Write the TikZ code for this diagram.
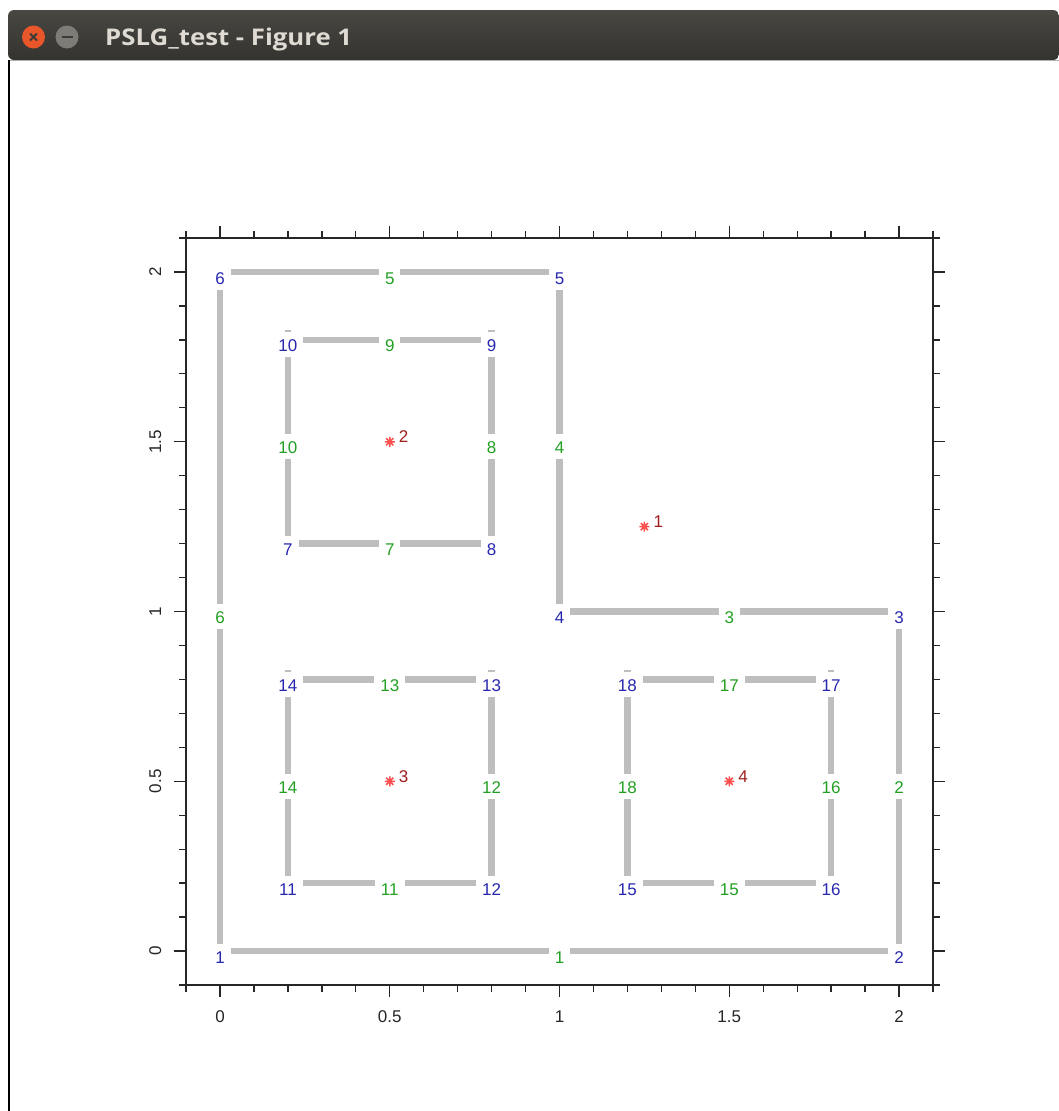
\documentclass[tikz,border=0pt]{standalone}
\usepackage{fontspec}
\setmainfont{Liberation Sans}
\newfontfamily\titlefont{Open Sans}
\usetikzlibrary{calc}
\definecolor{edgegray}{RGB}{190,190,190}
\definecolor{vblue}{RGB}{40,40,175}
\definecolor{egreen}{RGB}{35,160,35}
\definecolor{rdark}{RGB}{160,30,30}
\definecolor{rstar}{RGB}{255,80,80}
\definecolor{axcol}{RGB}{38,38,38}
\definecolor{bartop}{RGB}{72,71,66}
\definecolor{barbot}{RGB}{52,51,47}
\definecolor{titletext}{RGB}{223,219,210}
\definecolor{closeorange}{RGB}{233,86,42}
\definecolor{mingray}{RGB}{125,124,119}
\definecolor{btnmark}{RGB}{60,59,55}
\tikzset{
  pedge/.style={draw=edgegray, line width=6.5pt},
  plab/.style={fill=white, inner xsep=6pt, inner ysep=0pt, text height=19.5pt, text depth=5.5pt,
               anchor=base, yshift=-12pt, font=\fontsize{17}{17}\selectfont},
  vlab/.style={plab, text=vblue},
  elab/.style={plab, text=egreen},
  rlab/.style={anchor=base west, inner sep=0pt, text=rdark, font=\fontsize{17}{17}\selectfont},
  ticklab/.style={inner sep=0pt, text=axcol, font=\fontsize{17}{17}\selectfont},
  starmark/.style={draw=rstar, line width=1.5pt},
  axisline/.style={draw=axcol, line width=1.3pt},
}
\begin{document}
\begin{tikzpicture}[x=1pt,y=-1pt]
\useasboundingbox (0,0) rectangle (1059,1111);
\fill[white] (0,0) rectangle (1059,1111);
% window title bar
\shade[top color=bartop, bottom color=barbot, rounded corners=6pt]
  (8,60) -- (8,10) -- (1059,10) -- (1059,60) -- cycle;
\draw[gray!60, line width=1pt] (8,60.5) -- (1059,60.5);
\draw[black, line width=2pt] (9,60) -- (9,1111);
\node[circle, fill=closeorange, minimum size=23pt, inner sep=0pt] (closebtn) at (33.5,37) {};
\draw[btnmark, line width=1.8pt] ($(closebtn)+(-3.5,-3.5)$) -- ($(closebtn)+(3.5,3.5)$)
  ($(closebtn)+(-3.5,3.5)$) -- ($(closebtn)+(3.5,-3.5)$);
\node[circle, fill=mingray, minimum size=23pt, inner sep=0pt] (minbtn) at (67,37) {};
\draw[btnmark, line width=2pt] ($(minbtn)+(-5.5,0)$) -- ($(minbtn)+(5.5,0)$);
\node[anchor=base west, inner sep=0pt, text=titletext, font=\titlefont\bfseries\fontsize{23}{23}\selectfont]
  (title) at (105,45) {\scalebox{1.12}[1]{PSLG\_test - Figure 1}};

% data coordinates
\begin{scope}[shift={(220pt,-951pt)}, x=339.5pt, y=339.5pt]
  \coordinate (v1) at (0,0);     \coordinate (v2) at (2,0);
  \coordinate (v3) at (2,1);     \coordinate (v4) at (1,1);
  \coordinate (v5) at (1,2);     \coordinate (v6) at (0,2);
  \coordinate (v7) at (0.2,1.2); \coordinate (v8) at (0.8,1.2);
  \coordinate (v9) at (0.8,1.8); \coordinate (v10) at (0.2,1.8);
  \coordinate (v11) at (0.2,0.2); \coordinate (v12) at (0.8,0.2);
  \coordinate (v13) at (0.8,0.8); \coordinate (v14) at (0.2,0.8);
  \coordinate (v15) at (1.2,0.2); \coordinate (v16) at (1.8,0.2);
  \coordinate (v17) at (1.8,0.8); \coordinate (v18) at (1.2,0.8);
  \coordinate (r1) at (1.25,1.25); \coordinate (r2) at (0.5,1.5);
  \coordinate (r3) at (0.5,0.5);   \coordinate (r4) at (1.5,0.5);
  % axes box
  \draw[axisline] (-0.1,-0.1) rectangle (2.1,2.1);
  \foreach \i in {0,...,22} {
    \pgfmathsetmacro\t{-0.1+0.1*\i}
    \draw[axisline] (\t,-0.1) -- ++(0pt,-7pt);
    \draw[axisline] (\t,2.1) -- ++(0pt,7pt);
    \draw[axisline] (-0.1,\t) -- ++(-7pt,0pt);
    \draw[axisline] (2.1,\t) -- ++(7pt,0pt);
  }
  \foreach \t in {0,0.5,1,1.5,2} {
    \draw[axisline] (\t,-0.1) -- ++(0pt,-12pt);
    \draw[axisline] (\t,2.1) -- ++(0pt,12pt);
    \draw[axisline] (-0.1,\t) -- ++(-12pt,0pt);
    \draw[axisline] (2.1,\t) -- ++(12pt,0pt);
    \node[ticklab, anchor=base] at ($(\t,-0.1)+(0pt,-38pt)$) {\t};
    \node[ticklab, anchor=base, rotate=90] at ($(-0.1,\t)+(-25pt,0pt)$) {\t};
  }
\end{scope}

% PSLG edges
\foreach \a/\b in {1/2,2/3,3/4,4/5,5/6,6/1,7/8,8/9,9/10,10/7,11/12,12/13,13/14,14/11,15/16,16/17,17/18,18/15}
  \draw[pedge] (v\a) -- (v\b);
% small ends of hole edges peeking above labels
\foreach \v in {9,10,13,14,17,18}
  \fill[edgegray] ($(v\v)+(-3.25,-9.5)$) rectangle ($(v\v)+(3.25,-7.5)$);

% edge labels
\foreach \a/\b/\k in {1/2/1,2/3/2,3/4/3,4/5/4,5/6/5,6/1/6,7/8/7,8/9/8,9/10/9,10/7/10,11/12/11,12/13/12,13/14/13,14/11/14,15/16/15,16/17/16,17/18/17,18/15/18}
  \node[elab] (e\k) at ($(v\a)!0.5!(v\b)$) {\k};
% vertex labels
\foreach \k in {1,...,18}
  \node[vlab] (n\k) at (v\k) {\k};

% region markers
\foreach \k in {1,2,3,4} {
  \draw[starmark] ($(r\k)+(-5,0)$) -- ($(r\k)+(5,0)$)
                  ($(r\k)+(0,-5)$) -- ($(r\k)+(0,5)$)
                  ($(r\k)+(-3.6,-3.6)$) -- ($(r\k)+(3.6,3.6)$)
                  ($(r\k)+(-3.6,3.6)$) -- ($(r\k)+(3.6,-3.6)$);
  \node[rlab] (m\k) at ($(r\k)+(9,1)$) {\k};
}
\end{tikzpicture}
\end{document}
